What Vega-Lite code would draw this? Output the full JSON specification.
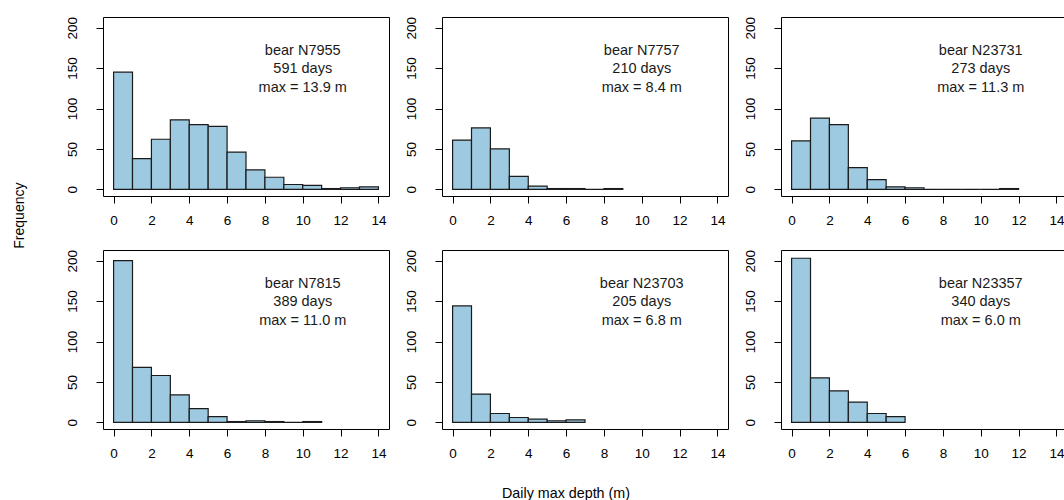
{
  "$schema": "https://vega.github.io/schema/vega-lite/v6.json",
  "padding": {"left": 12, "top": 15, "right": 0, "bottom": 0},
  "background": "white",
  "title": {"text": "Frequency", "orient": "left", "anchor": "middle", "fontSize": 14, "fontWeight": "normal", "font": "Liberation Sans", "color": "#000000", "offset": 38, "dx": 43},
  "config": {
    "font": "Liberation Sans",
    "view": {"stroke": "#000000", "strokeWidth": 1},
    "axis": {"grid": false, "domain": false, "tickColor": "#000000", "tickSize": 7, "tickWidth": 1, "labelFontSize": 13.5, "labelColor": "#000000", "labelFont": "Liberation Sans", "title": null}
  },
  "data": {"values": [
    {"row":1,"col":1,"lo":0,"hi":1,"n":145},{"row":1,"col":1,"lo":1,"hi":2,"n":38},{"row":1,"col":1,"lo":2,"hi":3,"n":62},{"row":1,"col":1,"lo":3,"hi":4,"n":86},{"row":1,"col":1,"lo":4,"hi":5,"n":80},{"row":1,"col":1,"lo":5,"hi":6,"n":78},{"row":1,"col":1,"lo":6,"hi":7,"n":46},{"row":1,"col":1,"lo":7,"hi":8,"n":24},{"row":1,"col":1,"lo":8,"hi":9,"n":15},{"row":1,"col":1,"lo":9,"hi":10,"n":6},{"row":1,"col":1,"lo":10,"hi":11,"n":5},{"row":1,"col":1,"lo":11,"hi":12,"n":1},{"row":1,"col":1,"lo":12,"hi":13,"n":2},{"row":1,"col":1,"lo":13,"hi":14,"n":3},
    {"row":1,"col":2,"lo":0,"hi":1,"n":61},{"row":1,"col":2,"lo":1,"hi":2,"n":76},{"row":1,"col":2,"lo":2,"hi":3,"n":50},{"row":1,"col":2,"lo":3,"hi":4,"n":16},{"row":1,"col":2,"lo":4,"hi":5,"n":4},{"row":1,"col":2,"lo":5,"hi":6,"n":1},{"row":1,"col":2,"lo":6,"hi":7,"n":1},{"row":1,"col":2,"lo":7,"hi":8,"n":0},{"row":1,"col":2,"lo":8,"hi":9,"n":1},
    {"row":1,"col":3,"lo":0,"hi":1,"n":60},{"row":1,"col":3,"lo":1,"hi":2,"n":88},{"row":1,"col":3,"lo":2,"hi":3,"n":80},{"row":1,"col":3,"lo":3,"hi":4,"n":27},{"row":1,"col":3,"lo":4,"hi":5,"n":12},{"row":1,"col":3,"lo":5,"hi":6,"n":3},{"row":1,"col":3,"lo":6,"hi":7,"n":2},{"row":1,"col":3,"lo":7,"hi":8,"n":0},{"row":1,"col":3,"lo":8,"hi":9,"n":0},{"row":1,"col":3,"lo":9,"hi":10,"n":0},{"row":1,"col":3,"lo":10,"hi":11,"n":0},{"row":1,"col":3,"lo":11,"hi":12,"n":1},
    {"row":2,"col":1,"lo":0,"hi":1,"n":200},{"row":2,"col":1,"lo":1,"hi":2,"n":68},{"row":2,"col":1,"lo":2,"hi":3,"n":58},{"row":2,"col":1,"lo":3,"hi":4,"n":34},{"row":2,"col":1,"lo":4,"hi":5,"n":17},{"row":2,"col":1,"lo":5,"hi":6,"n":7},{"row":2,"col":1,"lo":6,"hi":7,"n":1},{"row":2,"col":1,"lo":7,"hi":8,"n":2},{"row":2,"col":1,"lo":8,"hi":9,"n":1},{"row":2,"col":1,"lo":9,"hi":10,"n":0},{"row":2,"col":1,"lo":10,"hi":11,"n":1},
    {"row":2,"col":2,"lo":0,"hi":1,"n":144},{"row":2,"col":2,"lo":1,"hi":2,"n":35},{"row":2,"col":2,"lo":2,"hi":3,"n":11},{"row":2,"col":2,"lo":3,"hi":4,"n":6},{"row":2,"col":2,"lo":4,"hi":5,"n":4},{"row":2,"col":2,"lo":5,"hi":6,"n":2},{"row":2,"col":2,"lo":6,"hi":7,"n":3},
    {"row":2,"col":3,"lo":0,"hi":1,"n":203},{"row":2,"col":3,"lo":1,"hi":2,"n":55},{"row":2,"col":3,"lo":2,"hi":3,"n":39},{"row":2,"col":3,"lo":3,"hi":4,"n":25},{"row":2,"col":3,"lo":4,"hi":5,"n":11},{"row":2,"col":3,"lo":5,"hi":6,"n":7},
    {"row":1,"col":1,"label":"bear N7955\n591 days\nmax = 13.9 m"},
    {"row":1,"col":2,"label":"bear N7757\n210 days\nmax = 8.4 m"},
    {"row":1,"col":3,"label":"bear N23731\n273 days\nmax = 11.3 m"},
    {"row":2,"col":1,"label":"bear N7815\n389 days\nmax = 11.0 m"},
    {"row":2,"col":2,"label":"bear N23703\n205 days\nmax = 6.8 m"},
    {"row":2,"col":3,"label":"bear N23357\n340 days\nmax = 6.0 m"}
  ]},
  "facet": {
    "row": {"field": "row", "type": "ordinal", "header": {"title": null, "labels": false}},
    "column": {"field": "col", "type": "ordinal", "header": {"title": "\u00a0\u00a0\u00a0\u00a0Daily max depth (m)", "labels": false, "orient": "bottom", "titleFontSize": 14.3, "titleFontWeight": "normal", "titleColor": "#000000", "titleFont": "Liberation Sans", "titlePadding": 48}}
  },
  "spacing": {"row": 54, "column": 53},
  "bounds": "flush",
  "resolve": {"axis": {"x": "independent", "y": "independent"}},
  "spec": {
    "width": 286,
    "height": 179,
    "layer": [
      {
        "transform": [{"filter": "isValid(datum.n)"}],
        "mark": {"type": "bar", "fill": "#9ecae1", "stroke": "#1a1a1a", "strokeWidth": 1.2},
        "encoding": {
          "x": {"field": "lo", "type": "quantitative", "scale": {"domain": [-0.56, 14.56], "nice": false, "zero": false}, "axis": {"values": [0,2,4,6,8,10,12,14], "labelPadding": 10, "labelAngle": 0}},
          "x2": {"field": "hi"},
          "y": {"field": "n", "type": "quantitative", "scale": {"domain": [-8.2, 213.2], "nice": false, "zero": false}, "axis": {"values": [0,50,100,150,200], "labelAngle": -90, "labelAlign": "center", "labelBaseline": "bottom", "labelPadding": 17}},
          "y2": {"datum": 0}
        }
      },
      {
        "transform": [{"filter": "isValid(datum.label)"}],
        "mark": {"type": "text", "fontSize": 14.5, "lineBreak": "\n", "lineHeight": 18.3, "align": "center", "baseline": "middle", "color": "#1a1a1a"},
        "encoding": {
          "x": {"datum": 10, "type": "quantitative"},
          "y": {"datum": 171, "type": "quantitative"},
          "text": {"field": "label"}
        }
      }
    ]
  }
}
